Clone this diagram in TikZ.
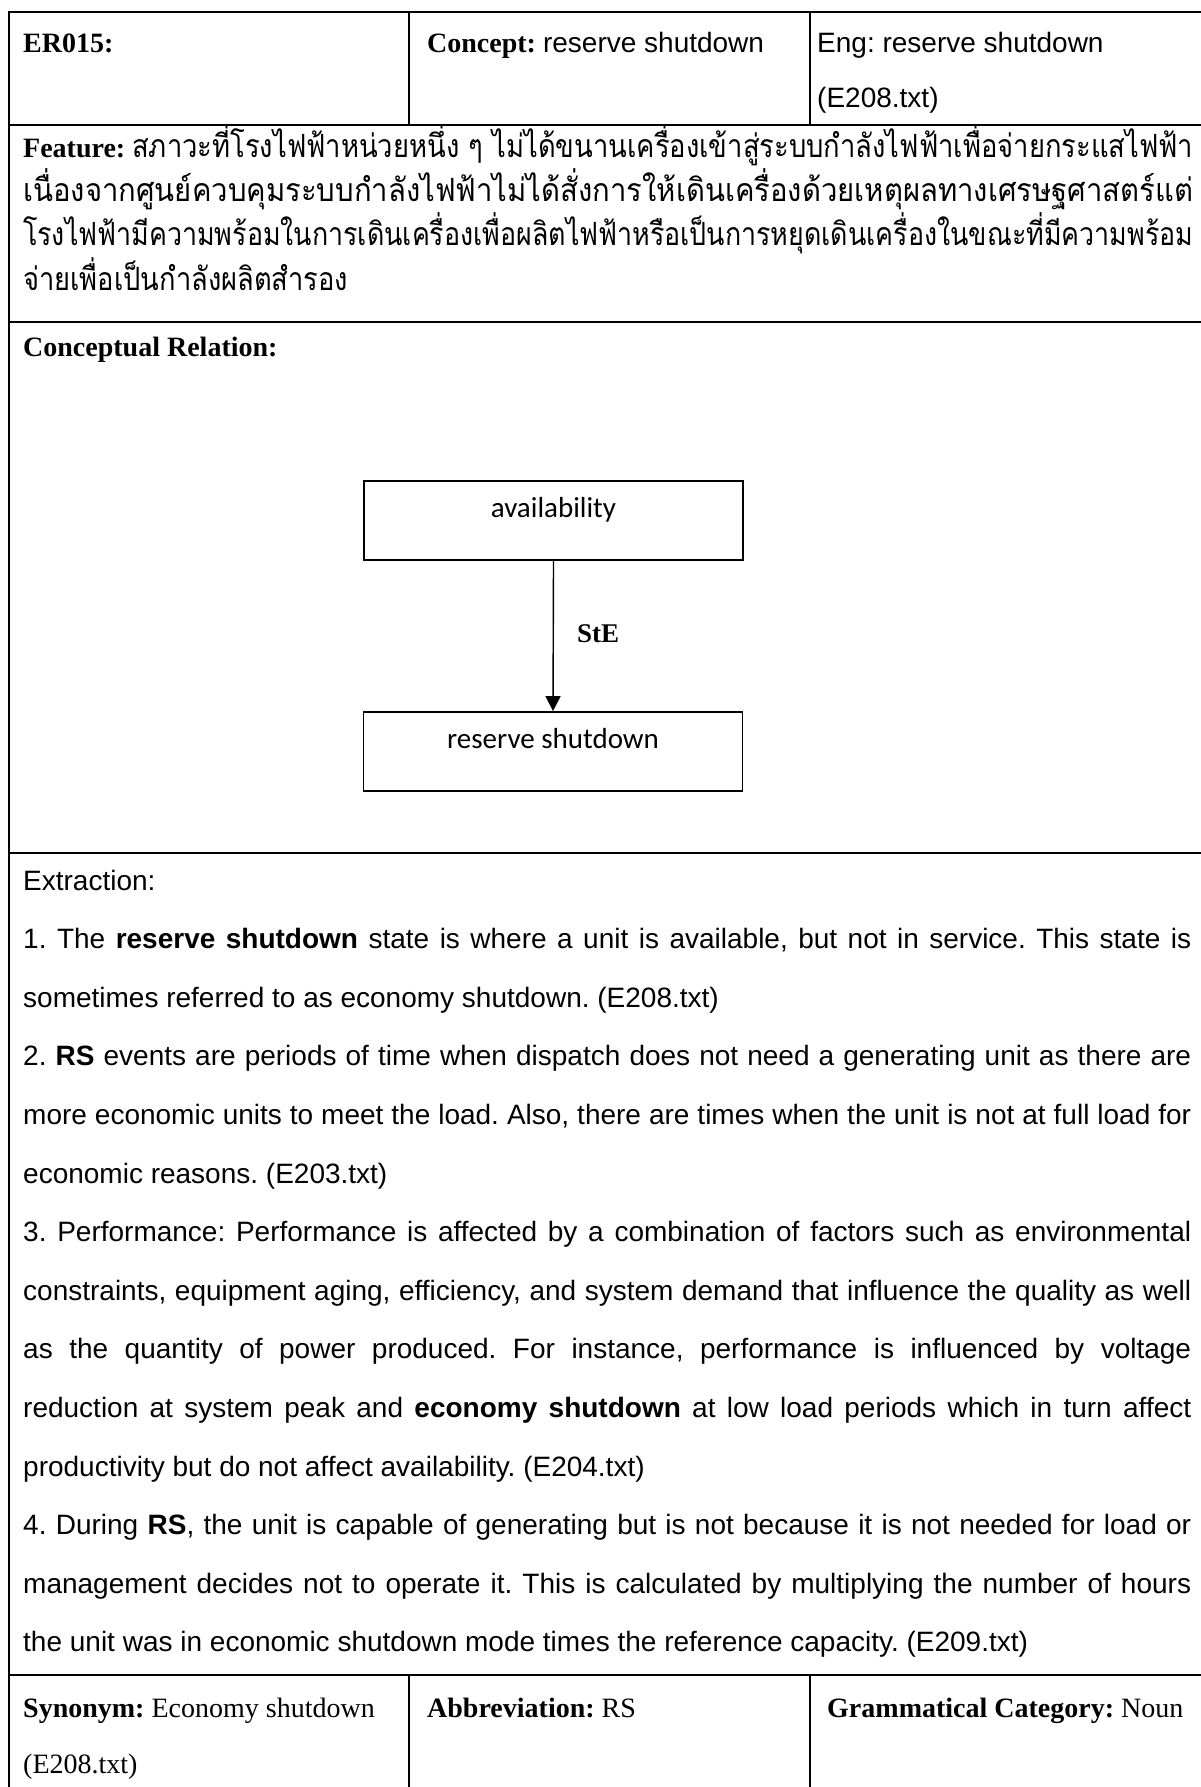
\documentclass[tikz,border=0pt]{standalone}
\usepackage{fontspec}
\usepackage{graphicx}
\setmainfont{Liberation Serif}
\setsansfont{Liberation Sans}
\newfontfamily\thaifont[Script=Thai]{Loma}
\newfontfamily\boxfont{Carlito}
\usetikzlibrary{arrows.meta}
\frenchspacing

% body text size: 1pt = 1 pixel of the page
\newcommand\txtsize{\fontsize{28}{58}\selectfont}
\newcommand\thaisize{\fontsize{32}{44}\selectfont}
\newcommand\lab[1]{{\rmfamily\bfseries #1}}
\newcommand\jline[1]{\makebox[1168pt][s]{#1}}
\newlength\featw
\newlength\thw

\tikzset{
  rule/.style={line width=1.6pt},
  cell/.style={anchor=base west, inner sep=0pt, font=\txtsize},
  ext/.style={cell, font=\txtsize\sffamily},
  conceptbox/.style={draw, line width=1.7pt, minimum width=379pt, minimum height=79pt,
    inner sep=0pt, font=\boxfont\fontsize{29}{32}\selectfont, text height=20pt, text depth=26pt},
  relarrow/.style={line width=1.4pt, -{Triangle[width=15pt,length=15pt]}},
}

\begin{document}
\begin{tikzpicture}[x=1pt,y=-1pt]
\useasboundingbox (0,0) rectangle (1200,1787);

% table rules
\draw[rule] (9,12) -- (1202,12);
\draw[rule] (9,125) -- (1202,125);
\draw[rule] (9,322) -- (1202,322);
\draw[rule] (9,853) -- (1202,853);
\draw[rule] (9,1675) -- (1202,1675);
\draw[rule] (9,11.2) -- (9,1790);
\draw[rule] (409,12) -- (409,125);
\draw[rule] (810,12) -- (810,125);
\draw[rule] (409,1675) -- (409,1790);
\draw[rule] (810,1675) -- (810,1790);

% header row
\node[cell] (er) at (23,53) {\lab{ER015:}};
\node[cell] (concept) at (427,53) {\lab{Concept:} \sffamily reserve shutdown};
\node[cell] (eng) at (817,53) {\sffamily Eng: reserve shutdown};
\node[cell] (engsrc) at (817,108) {\sffamily (E208.txt)};

% feature row
\node[cell] (feat1) at (23,158) {\settowidth{\featw}{\lab{Feature:}\ }%
  \setlength{\thw}{\dimexpr1170pt-\featw\relax}%
  \lab{Feature:}\ \resizebox{\thw}{\height}{\thaifont\thaisize สภาวะที่โรงไฟฟ้าหน่วยหนึ่ง ๆ ไม่ได้ขนานเครื่องเข้าสู่ระบบกำลังไฟฟ้าเพื่อจ่ายกระแสไฟฟ้า}};
\node[cell] (feat2) at (23,202) {\resizebox{1170pt}{\height}{\thaifont\thaisize เนื่องจากศูนย์ควบคุมระบบกำลังไฟฟ้าไม่ได้สั่งการให้เดินเครื่องด้วยเหตุผลทางเศรษฐศาสตร์แต่}};
\node[cell] (feat3) at (23,246) {\resizebox{1170pt}{\height}{\thaifont\thaisize โรงไฟฟ้ามีความพร้อมในการเดินเครื่องเพื่อผลิตไฟฟ้าหรือเป็นการหยุดเดินเครื่องในขณะที่มีความพร้อม}};
\node[cell] (feat4) at (23,290) {\resizebox{325pt}{\height}{\thaifont\thaisize จ่ายเพื่อเป็นกำลังผลิตสำรอง}};

% conceptual relation row
\node[cell] (crel) at (23,356) {\lab{Conceptual Relation:}};
\node[conceptbox] (avail) at (553.5,520.5) {availability};
\node[conceptbox] (rsd) at (553,751.5) {reserve shutdown};
\draw[relarrow] (avail.south) -- (rsd.north);
\node[cell, font=\rmfamily\bfseries\fontsize{27}{30}\selectfont] (ste) at (577,642) {StE};

% extraction row
\node[ext] (ex0) at (23,890) {Extraction:};
\node[ext] (ex1) at (23,948.6) {\jline{1. The \textbf{reserve shutdown} state is where a unit is available, but not in service. This state is}};
\node[ext] (ex2) at (23,1007.2) {sometimes referred to as economy shutdown. (E208.txt)};
\node[ext] (ex3) at (23,1065.8) {\jline{2. \textbf{RS} events are periods of time when dispatch does not need a generating unit as there are}};
\node[ext] (ex4) at (23,1124.4) {\jline{more economic units to meet the load. Also, there are times when the unit is not at full load for}};
\node[ext] (ex5) at (23,1183) {economic reasons. (E203.txt)};
\node[ext] (ex6) at (23,1241.6) {\jline{3. Performance: Performance is affected by a combination of factors such as environmental}};
\node[ext] (ex7) at (23,1300.2) {\jline{constraints, equipment aging, efficiency, and system demand that influence the quality as well}};
\node[ext] (ex8) at (23,1358.8) {\jline{as the quantity of power produced. For instance, performance is influenced by voltage}};
\node[ext] (ex9) at (23,1417.4) {\jline{reduction at system peak and \textbf{economy shutdown} at low load periods which in turn affect}};
\node[ext] (ex10) at (23,1476) {productivity but do not affect availability. (E204.txt)};
\node[ext] (ex11) at (23,1534.6) {\jline{4. During \textbf{RS}, the unit is capable of generating but is not because it is not needed for load or}};
\node[ext] (ex12) at (23,1593.2) {\jline{management decides not to operate it. This is calculated by multiplying the number of hours}};
\node[ext] (ex13) at (23,1651.8) {the unit was in economic shutdown mode times the reference capacity. (E209.txt)};

% bottom row
\node[cell] (syn) at (23,1717) {\lab{Synonym:} Economy shutdown};
\node[cell] (synsrc) at (23,1773) {(E208.txt)};
\node[cell] (abbr) at (427,1717) {\lab{Abbreviation:} RS};
\node[cell] (gram) at (827,1717) {\lab{Grammatical Category:} Noun};
\end{tikzpicture}
\end{document}
